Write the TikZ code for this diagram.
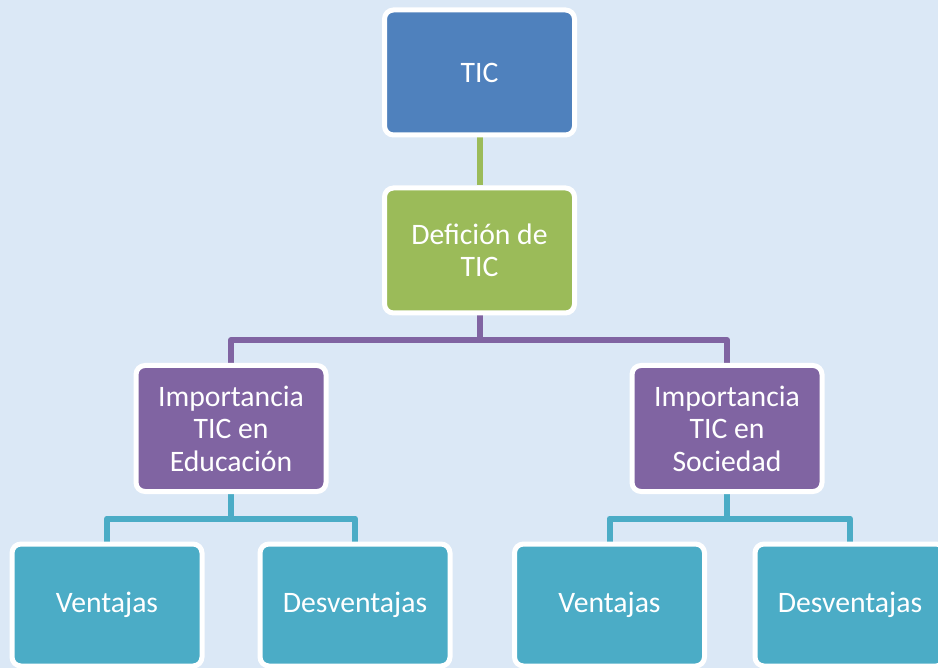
\documentclass[tikz,border=0pt]{standalone}
\usepackage{fontspec}
\setmainfont{Carlito}
\usetikzlibrary{backgrounds}
\definecolor{bgblue}{RGB}{219,232,246}
\definecolor{ticblue}{RGB}{79,129,189}
\definecolor{ticgreen}{RGB}{155,187,89}
\definecolor{ticpurple}{RGB}{128,100,162}
\definecolor{ticteal}{RGB}{75,172,198}
\tikzset{
  box/.style={draw=white, line width=5pt, rounded corners=9pt, align=center,
    text=white, font=\fontsize{29.7}{32.5}\selectfont, inner sep=0pt,
    minimum width=190pt},
  topbox/.style={box, fill=ticblue, minimum height=125pt},
  defbox/.style={box, fill=ticgreen, minimum height=125pt},
  impbox/.style={box, fill=ticpurple, minimum height=126pt},
  leafbox/.style={box, fill=ticteal, minimum height=122pt},
  conn/.style={line width=6pt, line join=round}
}
\begin{document}
\begin{tikzpicture}[x=1pt,y=-1pt]
\useasboundingbox (0,0) rectangle (938,668);
\clip (0,0) rectangle (938,668);
\node[topbox] (tic) at (479.5,72.5) {TIC};
\node[defbox] (def) at (479.5,250.5) {Defición de\\TIC};
\node[impbox] (impe) at (231,428.5) {Importancia\\TIC en\\Educación};
\node[impbox] (imps) at (727,428.5) {Importancia\\TIC en\\Sociedad};
\node[leafbox] (v1) at (107,605) {Ventajas};
\node[leafbox] (d1) at (355,605) {Desventajas};
\node[leafbox] (v2) at (609.5,605) {Ventajas};
\node[leafbox] (d2) at (850,605) {Desventajas};
\coordinate (j0) at (479.5,340);
\coordinate (j1) at (231,518.5);
\coordinate (j2) at (727,518.5);
\begin{scope}[on background layer]
  \fill[bgblue] (0,0) rectangle (938,668);
  \draw[conn, ticgreen] (tic.south) -- (def.north);
  \draw[conn, ticpurple] (def.south) -- (j0) -| (impe.north);
  \draw[conn, ticpurple] (j0) -| (imps.north);
  \draw[conn, ticteal] (impe.south) -- (j1) -| (v1.north);
  \draw[conn, ticteal] (j1) -| (d1.north);
  \draw[conn, ticteal] (imps.south) -- (j2) -| (v2.north);
  \draw[conn, ticteal] (j2) -| (d2.north);
\end{scope}
\end{tikzpicture}
\end{document}
